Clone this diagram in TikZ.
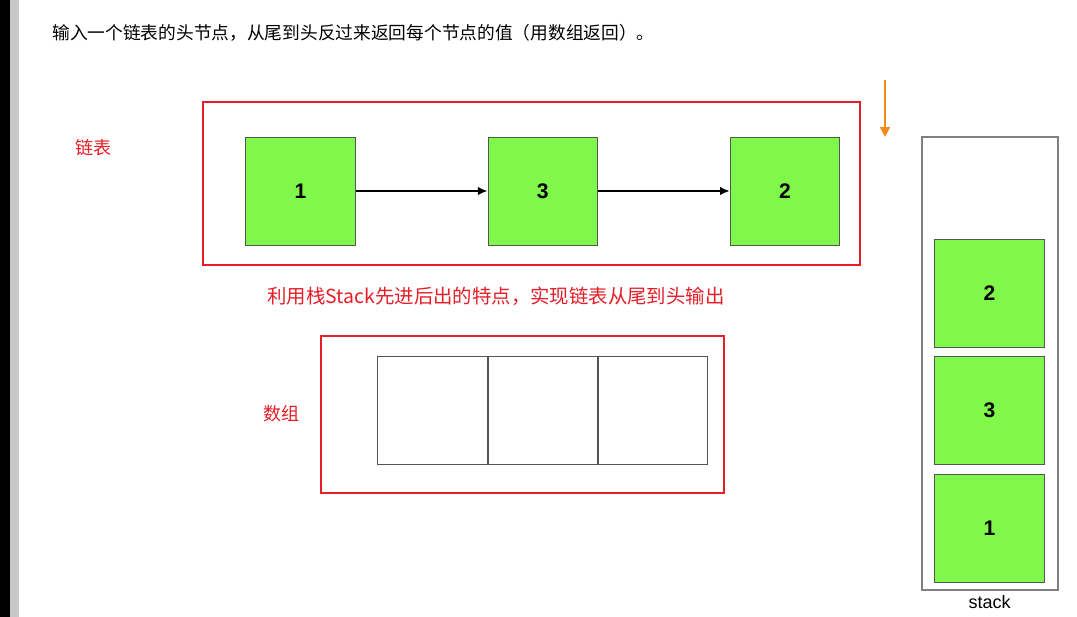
\documentclass[tikz,border=0pt]{standalone}
\usepackage{fontspec}
\setmainfont{Liberation Sans}
\newfontfamily\cjk{Noto Sans CJK SC}
\usepackage{xcolor}
\usetikzlibrary{arrows.meta,positioning}
\definecolor{nodegreen}{RGB}{127,247,75}
\definecolor{framered}{RGB}{230,30,40}
\definecolor{pushorange}{RGB}{240,140,25}
\definecolor{edgegray}{RGB}{85,85,85}
\tikzset{
  listcell/.style={draw=edgegray, fill=nodegreen, minimum width=2.74cm, minimum height=2.7cm,
    inner sep=0pt, font=\fontsize{15}{18}\selectfont\bfseries},
  arrcell/.style={draw=edgegray, minimum width=2.74cm, minimum height=2.7cm, inner sep=0pt},
  redframe/.style={draw=framered, line width=1.3pt},
  redlabel/.style={text=framered, font=\cjk\fontsize{12.8}{15}\selectfont},
  link/.style={-{Latex[length=7pt,width=6pt]}, line width=1.3pt}
}

\begin{document}
\begin{tikzpicture}[x=0.025cm, y=-0.025cm]
    % Page and window edge
    \fill[white] (0,0) rectangle (1077,617);
    \useasboundingbox (0,0) rectangle (1077,617);
    \fill[black] (0,0) rectangle (9.5,617);
    \fill[black!22] (9.5,0) rectangle (19,617);

    % Question
    \node[anchor=west, inner sep=0pt, font=\cjk\fontsize{12.6}{15}\selectfont] (title) at (52,33)
        {输入一个链表的头节点，从尾到头反过来返回每个节点的值（用数组返回）。};

    % Linked list
    \draw[redframe] (203,102) rectangle (860,265);
    \node[redlabel] (listlbl) at (93,148) {链表};
    \node[listcell] (n1) at (300.5,191) {1};
    \node[listcell, right=3.3cm of n1] (n3) {3};
    \node[listcell, right=3.3cm of n3] (n2) {2};
    \draw[link] (n1) -- (n3);
    \draw[link] (n3) -- (n2);

    \node[text=framered, font=\cjk\fontsize{13.8}{16}\selectfont] (hint) at (496,296)
        {利用栈Stack先进后出的特点，实现链表从尾到头输出};

    % Result array
    \draw[redframe] (321,336) rectangle (724,493);
    \node[redlabel] (arrlbl) at (281,414) {数组};
    \node[arrcell] (a1) at (432.5,410) {};
    \node[arrcell, right=0pt of a1] (a2) {};
    \node[arrcell, right=0pt of a2] (a3) {};

    % Stack
    \coordinate (pushtop) at (885,80);
    \coordinate (pushend) at (885,137);
    \draw[-{Triangle[length=7pt,width=7pt]}, pushorange, line width=1.3pt] (pushtop) -- (pushend);
    \draw[draw=black!50, line width=1.3pt] (922,137) rectangle (1058,590);
    \node[listcell] (s2) at (989.5,293) {2};
    \node[listcell, below=0.225cm of s2] (s3) {3};
    \node[listcell, below=0.225cm of s3] (s1) {1};
    \node[font=\fontsize{12.8}{15}\selectfont] (stacklbl) at (989.5,602) {stack};
\end{tikzpicture}
\end{document}
